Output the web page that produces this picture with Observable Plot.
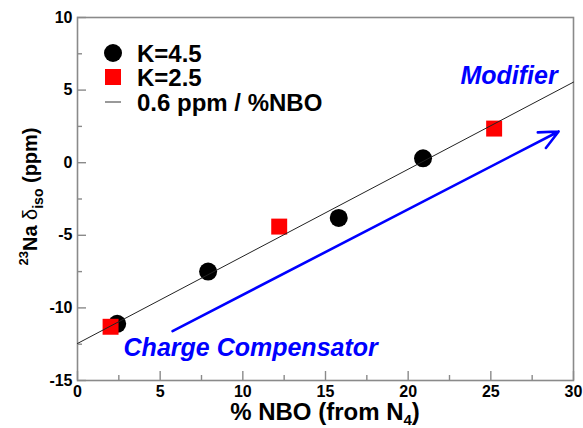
<!DOCTYPE html>
<html>
<head>
<meta charset="utf-8">
<script src="https://cdn.jsdelivr.net/npm/d3@7"></script>
<script src="https://cdn.jsdelivr.net/npm/@observablehq/plot@0.6"></script>
<style>
  body { margin: 0; background: #fff; }
  #chart { width: 583px; height: 428px; }
</style>
</head>
<body>
<div id="chart"></div>
<script>
// 23Na isotropic shift against the fraction of non-bridging oxygens
const k45Nbo = [2.4, 7.9, 15.8, 20.9];
const k45Shift = [-11.1, -7.5, -3.8, 0.3];
const k25Nbo = [2.0, 12.2, 25.2];
const k25Shift = [-11.3, -4.4, 2.35];

// Linear trend (ppm per %NBO) over the plotted range
const fitSlope = 0.6;
const fitIntercept = -12.45;
const fitRange = [0, 30];

// Trend arrow: charge compensator -> modifier
const arrowNbo = [5.75, 29.1];
const arrowShift = [-11.6, 2.15];
const arrowLabels = ["Charge Compensator", "Modifier"];

const seriesLabels = ["K=4.5", "K=2.5", "0.6 ppm / %NBO"];
const xTicks = [0, 5, 10, 15, 20, 25, 30];
const yTicks = [-15, -10, -5, 0, 5, 10];
const xMinor = [2.5, 7.5, 12.5, 17.5, 22.5, 27.5];
const yMinor = [-12.5, -7.5, -2.5, 2.5, 7.5];

const k45 = k45Nbo.map((x, i) => ({x, y: k45Shift[i]}));
const k25 = k25Nbo.map((x, i) => ({x, y: k25Shift[i]}));
const fit = fitRange.map(x => ({x, y: fitIntercept + fitSlope * x}));
const trend = [{x1: arrowNbo[0], y1: arrowShift[0], x2: arrowNbo[1], y2: arrowShift[1]}];

const W = 583, H = 428;
const M = {top: 17, right: 10, bottom: 48, left: 77};
const innerW = W - M.left - M.right;
const innerH = H - M.top - M.bottom;
const axisGray = "#8a8a8a";
const blue = "#0000ff";
const font = "Liberation Sans, Arial, sans-serif";

// Legend drawn inside the frame, top-left
function legend(index, scales, values, dims) {
  const g = d3.create("svg:g")
    .attr("font-family", font)
    .attr("font-weight", "bold")
    .attr("font-size", 24)
    .attr("text-anchor", "start");
  const x0 = dims.marginLeft + 36, tx = dims.marginLeft + 60;
  const rows = [dims.marginTop + 36, dims.marginTop + 60, dims.marginTop + 85];
  g.append("circle").attr("cx", x0).attr("cy", rows[0]).attr("r", 9).attr("fill", "#000");
  g.append("rect").attr("x", x0 - 8).attr("y", rows[1] - 8).attr("width", 16).attr("height", 16).attr("fill", "#ff0000");
  g.append("line").attr("x1", x0 - 8).attr("x2", x0 + 8).attr("y1", rows[2]).attr("y2", rows[2])
    .attr("stroke", "#555").attr("stroke-width", 1.2);
  seriesLabels.forEach((s, i) => {
    g.append("text").attr("x", tx).attr("y", rows[i] + 9).attr("fill", "#000").text(s);
  });
  return g.node();
}

// Axis titles with super/subscripts
function axisTitles(index, scales, values, dims) {
  const g = d3.create("svg:g")
    .attr("font-family", font)
    .attr("font-weight", "bold")
    .attr("fill", "#000");
  const cx = dims.marginLeft + (dims.width - dims.marginLeft - dims.marginRight) / 2;
  const xt = g.append("text").attr("x", cx).attr("y", dims.height - 8)
    .attr("text-anchor", "middle").attr("font-size", 24);
  xt.append("tspan").text("% NBO (from N");
  xt.append("tspan").attr("font-size", 15).attr("dy", 5).text("4");
  xt.append("tspan").attr("dy", -5).text(")");

  const cy = dims.marginTop + (dims.height - dims.marginTop - dims.marginBottom) / 2;
  const yt = g.append("text").attr("transform", `translate(37,${cy - 2}) rotate(-90)`)
    .attr("text-anchor", "middle").attr("font-size", 20);
  yt.append("tspan").attr("font-size", 13).attr("dy", -9).text("23");
  yt.append("tspan").attr("dy", 9).text("Na ");
  yt.append("tspan").attr("font-weight", "normal").text("δ");
  yt.append("tspan").attr("font-size", 14).attr("dy", 6).text("iso");
  yt.append("tspan").attr("dy", -6).text(" (ppm)");
  return g.node();
}

const chart = Plot.plot({
  width: W,
  height: H,
  marginTop: M.top,
  marginRight: M.right,
  marginBottom: M.bottom,
  marginLeft: M.left,
  style: {fontFamily: font, fontWeight: "bold", fontSize: "16px", background: "#fff", color: "#000"},
  x: {domain: [0, 30]},
  y: {domain: [-15, 10]},
  marks: [
    Plot.frame({stroke: axisGray, strokeWidth: 1.6}),
    // inward major / minor ticks
    Plot.tickX(xTicks, {x: d => d, insetTop: innerH - 9, stroke: axisGray, strokeWidth: 1.4}),
    Plot.tickX(xMinor, {x: d => d, insetTop: innerH - 5, stroke: axisGray, strokeWidth: 1.4}),
    Plot.tickY(yTicks, {y: d => d, insetRight: innerW - 9, stroke: axisGray, strokeWidth: 1.4}),
    Plot.tickY(yMinor, {y: d => d, insetRight: innerW - 5, stroke: axisGray, strokeWidth: 1.4}),
    Plot.axisX({ticks: xTicks, tickSize: 0, tickPadding: 5, label: null, fontSize: 16, fontWeight: "bold"}),
    Plot.axisY({ticks: yTicks, tickSize: 0, tickPadding: 5, label: null, fontSize: 16, fontWeight: "bold", tickFormat: d => d < 0 ? "-" + Math.abs(d) : String(d)}),
    Plot.arrow(trend, {x1: "x1", y1: "y1", x2: "x2", y2: "y2", stroke: blue, strokeWidth: 2.6, headLength: 12, headAngle: 50}),
    Plot.text(trend, {x: "x2", y: "y2", text: () => arrowLabels[1], textAnchor: "end", lineAnchor: "bottom", dx: -1, dy: -47,
      fill: blue, fontSize: 25, fontStyle: "italic", fontWeight: "bold"}),
    Plot.text(trend, {x: "x1", y: "y1", text: () => arrowLabels[0], textAnchor: "start", lineAnchor: "bottom", dx: -49, dy: 25,
      fill: blue, fontSize: 25, fontStyle: "italic", fontWeight: "bold"}),
    Plot.dot(k45, {x: "x", y: "y", r: 9, fill: "#000"}),
    Plot.dot(k25, {x: "x", y: "y", r: 9, symbol: "square", fill: "#ff0000"}),
    Plot.line(fit, {x: "x", y: "y", stroke: "#222", strokeWidth: 1}),
    legend,
    axisTitles
  ]
});

document.getElementById("chart").append(chart);
</script>
</body>
</html>
